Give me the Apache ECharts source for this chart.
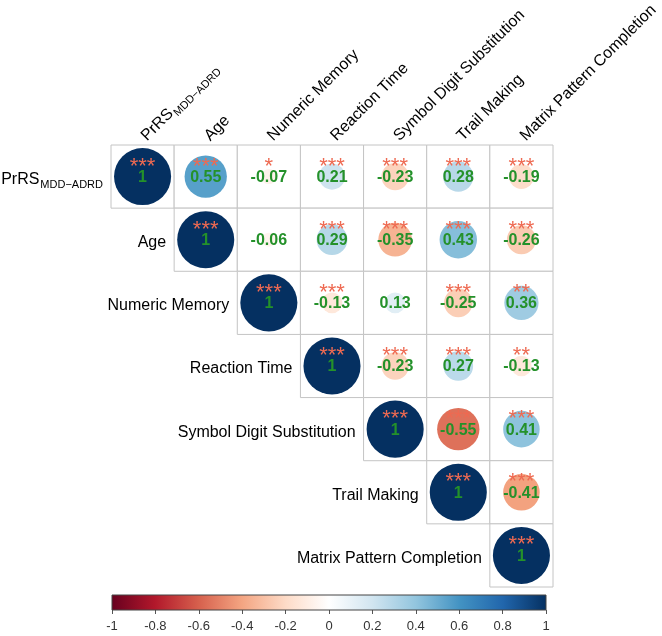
<!DOCTYPE html>
<html>
<head>
<meta charset="utf-8">
<script src="https://cdn.jsdelivr.net/npm/echarts@6/dist/echarts.min.js"></script>
<style>html,body{margin:0;padding:0;background:#fff;}#main{width:662px;height:636px;}</style>
</head>
<body>
<div id="main"></div>
<script>
// ---- data ----
const variables = ['PrRS', 'Age', 'Numeric Memory', 'Reaction Time', 'Symbol Digit Substitution', 'Trail Making', 'Matrix Pattern Completion'];
const firstSubscript = 'MDD\u2212ADRD';
// upper triangle rows (starting at the diagonal)
const row0 = [1, 0.55, -0.07, 0.21, -0.23, 0.28, -0.19];
const row1 = [1, -0.06, 0.29, -0.35, 0.43, -0.26];
const row2 = [1, -0.13, 0.13, -0.25, 0.36];
const row3 = [1, -0.23, 0.27, -0.13];
const row4 = [1, -0.55, 0.41];
const row5 = [1, -0.41];
const row6 = [1];
const stars0 = ['***', '***', '*', '***', '***', '***', '***'];
const stars1 = ['***', '', '***', '***', '***', '***'];
const stars2 = ['***', '***', '', '***', '**'];
const stars3 = ['***', '***', '***', '**'];
const stars4 = ['***', '***', '***'];
const stars5 = ['***', '***'];
const stars6 = ['***'];
const colorbarTicks = [-1, -0.8, -0.6, -0.4, -0.2, 0, 0.2, 0.4, 0.6, 0.8, 1];
const palette = ['#67001F', '#B2182B', '#D6604D', '#F4A582', '#FDDBC7', '#FFFFFF', '#D1E5F0', '#92C5DE', '#4393C3', '#2166AC', '#053061'];

const rows = [row0, row1, row2, row3, row4, row5, row6];
const starRows = [stars0, stars1, stars2, stars3, stars4, stars5, stars6];
const cellData = [];
rows.forEach((r, i) => r.forEach((v, k) => cellData.push([i + k, i, v, starRows[i][k]])));

const FONT = '"Liberation Sans", Arial, sans-serif';
const STAR_COLOR = '#EE6A52';
const NUM_COLOR = '#24912A';

function labelText(i) {
  return i === 0 ? '{a|PrRS}{b|' + firstSubscript + '}' : '{a|' + variables[i] + '}';
}
const richStyle = {
  a: { fontSize: 16, fontFamily: FONT, color: '#111', lineHeight: 20, verticalAlign: 'bottom' },
  b: { fontSize: 11, fontFamily: FONT, color: '#111', lineHeight: 14, verticalAlign: 'bottom', padding: [0, 0, -3, 1] }
};

const chart = echarts.init(document.getElementById('main'), null, { renderer: 'canvas' });
const option = {
  animation: false,
  backgroundColor: '#fff',
  grid: [
    { left: 111, top: 145, width: 442, height: 442 },
    { left: 112, top: 595, width: 434, height: 15 }
  ],
  xAxis: [
    { gridIndex: 0, type: 'category', data: variables, show: false },
    { gridIndex: 1, type: 'value', min: -1, max: 1, interval: 0.2,
      axisLine: { show: false }, splitLine: { show: false },
      axisTick: { show: true, length: 4, lineStyle: { color: '#555' } },
      axisLabel: { fontSize: 13, color: '#333', fontFamily: FONT, margin: 10,
        formatter: v => String(Math.round(v * 10) / 10) } }
  ],
  yAxis: [
    { gridIndex: 0, type: 'category', data: variables, inverse: true, show: false },
    { gridIndex: 1, type: 'value', min: 0, max: 1, show: false }
  ],
  visualMap: { show: false, type: 'continuous', min: -1, max: 1, dimension: 2, seriesIndex: 0,
    inRange: { color: palette } },
  series: [
    {
      type: 'custom', xAxisIndex: 0, yAxisIndex: 0, data: cellData, z: 2,
      renderItem: function (params, api) {
        const c = api.coord([api.value(0), api.value(1)]);
        const s = api.size([1, 1]);
        const w = s[0], h = s[1];
        const v = api.value(2);
        const st = cellData[params.dataIndex][3];
        return {
          type: 'group',
          children: [
            { type: 'rect', shape: { x: c[0] - w / 2, y: c[1] - h / 2, width: w, height: h },
              style: { fill: '#fff', stroke: '#C4C4C4', lineWidth: 1 } },
            { type: 'circle', shape: { cx: c[0], cy: c[1], r: Math.sqrt(Math.abs(v)) * w * 0.452 },
              style: { fill: api.visual('color') } },
            { type: 'text', x: c[0], y: c[1] + 1,
              style: { text: String(v), fill: NUM_COLOR, fontSize: 16, fontWeight: 'bold', fontFamily: FONT, align: 'center', verticalAlign: 'middle' } },
            { type: 'text', x: c[0], y: c[1] - 10,
              style: { text: st, fill: STAR_COLOR, fontSize: 22, fontFamily: FONT, align: 'center', verticalAlign: 'middle' } }
          ]
        };
      }
    },
    {
      type: 'custom', xAxisIndex: 0, yAxisIndex: 0, z: 3,
      data: variables.map((_, i) => [i, i]),
      renderItem: function (params, api) {
        const i = params.dataIndex;
        const c = api.coord([i, i]);
        const s = api.size([1, 1]);
        const top = api.coord([i, 0])[1] - s[1] / 2;
        return {
          type: 'group',
          children: [
            { type: 'text', x: c[0] - s[0] / 2 - 8, y: c[1] + 1,
              style: { text: labelText(i), rich: richStyle, align: 'right', verticalAlign: 'middle' } },
            { type: 'text', x: c[0] + 7, y: top - 1, rotation: Math.PI / 4,
              style: { text: labelText(i), rich: richStyle, align: 'left', verticalAlign: 'bottom' } }
          ]
        };
      }
    },
    {
      type: 'custom', xAxisIndex: 1, yAxisIndex: 1, z: 2,
      data: [[colorbarTicks[0], colorbarTicks[colorbarTicks.length - 1]]],
      renderItem: function (params, api) {
        const p0 = api.coord([api.value(0), 1]);
        const p1 = api.coord([api.value(1), 0]);
        const stops = palette.map((col, k) => ({ offset: k / (palette.length - 1), color: col }));
        return {
          type: 'rect',
          shape: { x: p0[0], y: p0[1], width: p1[0] - p0[0], height: p1[1] - p0[1] },
          style: { fill: new echarts.graphic.LinearGradient(0, 0, 1, 0, stops), stroke: '#444', lineWidth: 1 }
        };
      }
    }
  ]
};
chart.setOption(option);
</script>
</body>
</html>
